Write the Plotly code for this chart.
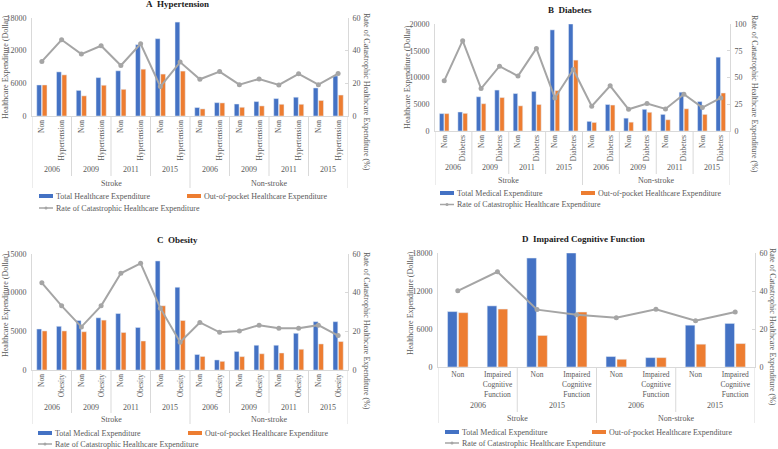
import plotly.graph_objects as go

W, H = 778, 449
FONT = "Liberation Serif"
BLUE, ORANGE, GRAY = "#4472C4", "#ED7D31", "#A5A5A5"
AX = "#D9D9D9"
TXT = "#595959"
FS = 8

groups = ["Stroke", "Non-stroke"]
years_abc = ["2006", "2009", "2011", "2015"]
years_d = ["2006", "2015"]

# ---- A Hypertension ----
a_conds = ["Non", "Hypertension"]
a_total = [5700, 8100, 4700, 7050, 8300, 13100, 14200, 17250,
           1550, 2450, 2200, 2650, 3200, 3450, 5150, 7350]
a_oop = [5700, 7550, 3700, 5650, 4900, 8600, 7700, 8250,
         1300, 2400, 1600, 1850, 2150, 2150, 2850, 3850]
a_rate = [33.4, 46.7, 37.9, 43.0, 30.9, 44.2, 18.0, 33.0,
          22.5, 27.2, 19.2, 22.7, 19.0, 25.8, 19.2, 26.0]

# ---- B Diabetes ----
b_conds = ["Non", "Diabetes"]
b_total = [3250, 3550, 6400, 7650, 7000, 7400, 18900, 20000,
           1800, 4950, 2400, 4050, 3100, 7250, 5500, 13800]
b_oop = [3250, 3300, 5100, 6250, 4700, 4950, 7550, 13250,
         1600, 4850, 1650, 3500, 2100, 4150, 3100, 7100]
b_rate = [46.9, 84.4, 39.7, 60.6, 51.3, 77.2, 30.9, 57.5,
          23.1, 42.2, 20.3, 25.6, 20.6, 34.4, 21.9, 30.9]

# ---- C Obesity ----
c_conds = ["Non", "Obesity"]
c_total = [5300, 5650, 6400, 6750, 7300, 5500, 14100, 10700,
           2000, 1300, 2400, 3200, 3200, 4750, 6250, 6250]
c_oop = [5050, 5050, 4950, 6450, 4850, 3750, 8300, 6400,
         1750, 1120, 1730, 2100, 2200, 2680, 3370, 3680]
c_rate = [45.1, 33.2, 22.3, 33.2, 50.0, 55.2, 32.0, 14.4,
          24.6, 19.5, 20.2, 23.2, 21.6, 21.6, 23.2, 17.8]

# ---- D Impaired Cognitive Function ----
d_conds = ["Non", "Impaired<br>Cognitive<br>Function"]
d_total = [8750, 9650, 17200, 18000, 1650, 1480, 6600, 6880]
d_oop = [8580, 9150, 4980, 8680, 1220, 1480, 3600, 3700]
d_rate = [40.1, 50.1, 30.2, 27.5, 25.9, 30.4, 24.4, 28.9]

panels = [
    dict(title="A\u00a0 Hypertension", conds=a_conds, years=years_abc,
         total=a_total, oop=a_oop, rate=a_rate, total_name="Total Healthcare Expenditure",
         yl=(0, 18000, 6000), yr=(0, 60, 20), angle=-90,
         plot=(32, 18, 348, 116), tpos=(177, 4), lt=(5, 67), rt=(367, 92),
         year_y=169, year_bot=176, group_y=183, frame_bot=188,
         leg_y=(196, 208), leg_x=(39, 187)),
    dict(title="B\u00a0 Diabetes", conds=b_conds, years=years_abc,
         total=b_total, oop=b_oop, rate=b_rate, total_name="Total Medical Expenditure",
         yl=(0, 20000, 5000), yr=(0, 100, 25), angle=-90,
         plot=(435, 24, 730, 131), tpos=(570, 10), lt=(407, 77), rt=(755, 94),
         year_y=167, year_bot=174, group_y=180, frame_bot=185,
         leg_y=(193, 204.5), leg_x=(440, 581)),
    dict(title="C\u00a0 Obesity", conds=c_conds, years=years_abc,
         total=c_total, oop=c_oop, rate=c_rate, total_name="Total Medical Expenditure",
         yl=(0, 15000, 5000), yr=(0, 60, 20), angle=-90,
         plot=(32, 254, 348, 370), tpos=(177, 240), lt=(5, 305), rt=(367, 331),
         year_y=407, year_bot=413, group_y=419, frame_bot=424,
         leg_y=(433, 444), leg_x=(38, 188)),
    dict(title="D\u00a0 Impaired Cognitive Function", conds=d_conds, years=years_d,
         total=d_total, oop=d_oop, rate=d_rate, total_name="Total Medical Expenditure",
         yl=(0, 18000, 6000), yr=(0, 60, 20), angle=0,
         plot=(438, 253, 755, 367), tpos=(583, 239), lt=(410, 303), rt=(773, 327),
         year_y=405, year_bot=412, group_y=418, frame_bot=423,
         leg_y=(432, 443), leg_x=(445, 592)),
]


def px(x):
    return x / W


def py(y):
    return 1 - y / H


def note(text, x, y, xref="paper", xanchor="center", angle=0, size=FS, color=TXT):
    return dict(text=text, x=x, y=y, xref=xref, yref="paper", showarrow=False,
                xanchor=xanchor, yanchor="middle", textangle=angle,
                font=dict(family=FONT, size=size, color=color))


fig = go.Figure()
layout = {}
shapes = []
annotations = []

for i, p in enumerate(panels):
    xid = "x" if i == 0 else f"x{i + 1}"
    ylid = "y" if i == 0 else f"y{2 * i + 1}"
    yrid = f"y{2 * i + 2}"
    xkey = "xaxis" if i == 0 else f"xaxis{i + 1}"
    ylkey = "yaxis" if i == 0 else f"yaxis{2 * i + 1}"
    yrkey = f"yaxis{2 * i + 2}"

    keys, labels, meta = [], [], []
    for g in groups:
        for yr in p["years"]:
            for c in p["conds"]:
                keys.append(f"{g} {yr} {c}")
                labels.append(c)
                meta.append((g, yr))
    n = len(keys)
    nc = len(p["conds"])

    fig.add_trace(go.Bar(x=keys, y=p["total"], name=p["total_name"], marker_color=BLUE,
                         xaxis=xid, yaxis=ylid, showlegend=False))
    fig.add_trace(go.Bar(x=keys, y=p["oop"], name="Out-of-pocket Healthcare Expenditure",
                         marker_color=ORANGE, xaxis=xid, yaxis=ylid, showlegend=False))
    fig.add_trace(go.Scatter(x=keys, y=p["rate"], name="Rate of Catastrophic Healthcare Expenditure",
                             mode="lines+markers", line=dict(color=GRAY, width=2),
                             marker=dict(color=GRAY, size=5), xaxis=xid, yaxis=yrid,
                             showlegend=False))

    x0, y0, x1, y1 = p["plot"]
    xd = [px(x0), px(x1)]
    yd = [py(y1), py(y0)]
    layout[xkey] = dict(domain=xd, anchor=ylid, type="category", range=[-0.5, n - 0.5],
                        automargin=False,
                        tickmode="array", tickvals=keys, ticktext=labels, tickangle=p["angle"],
                        showline=True, linecolor=AX, linewidth=1, ticks="", showgrid=False,
                        tickfont=dict(family=FONT, size=7.5, color=TXT), fixedrange=True)
    lo, hi, dt = p["yl"]
    layout[ylkey] = dict(domain=yd, anchor=xid, range=[lo, hi], dtick=dt, tickformat="d",
                         automargin=False,
                         showgrid=False, showline=True, linecolor=AX, zeroline=False, ticks="",
                         ticklabelstandoff=3,
                         tickfont=dict(family=FONT, size=FS, color=TXT))
    lo, hi, dt = p["yr"]
    layout[yrkey] = dict(overlaying=ylid, anchor=xid, side="right", range=[lo, hi], dtick=dt,
                         automargin=False,
                         tickformat="d", showgrid=False, showline=True, linecolor=AX,
                         zeroline=False, ticks="inside", ticklen=3, tickcolor=AX,
                         ticklabelstandoff=2,
                         tickfont=dict(family=FONT, size=FS, color=TXT))

    # Title and axis titles
    annotations.append(note(f"<b>{p['title']}</b>", px(p["tpos"][0]), py(p["tpos"][1]),
                            size=9, color="#1a1a1a"))
    annotations.append(note("Healthcare Expenditure (Dollar)", px(p["lt"][0]), py(p["lt"][1]),
                            angle=-90))
    annotations.append(note("Rate of Catastrophic Healthcare Expenditure (%)",
                            px(p["rt"][0]), py(p["rt"][1]), angle=90))

    # Year and group labels (multi-level category axis)
    ny = len(p["years"])
    for g in groups:
        for yr in p["years"]:
            idx = [k for k, m in enumerate(meta) if m == (g, yr)]
            annotations.append(note(yr, sum(idx) / len(idx), py(p["year_y"]), xref=xid))
        gidx = [k for k, m in enumerate(meta) if m[0] == g]
        annotations.append(note(g, sum(gidx) / len(gidx), py(p["group_y"]), xref=xid))
    # separators
    for k in range(1, 2 * ny):
        bx = k * nc - 0.5
        bot = p["frame_bot"] if k == ny else p["year_bot"]
        shapes.append(dict(type="line", xref=xid, yref="paper", x0=bx, x1=bx,
                           y0=py(y1), y1=py(bot), line=dict(color=AX, width=1)))
    for bx in (-0.5, n - 0.5):
        shapes.append(dict(type="line", xref=xid, yref="paper", x0=bx, x1=bx,
                           y0=py(y1), y1=py(p["frame_bot"]), line=dict(color=AX, width=1)))

    # Legend
    ly1, ly2 = p["leg_y"]
    lx1, lx2 = p["leg_x"]
    for lx, col, name in ((lx1, BLUE, p["total_name"]),
                          (lx2, ORANGE, "Out-of-pocket Healthcare Expenditure")):
        shapes.append(dict(type="rect", xref="paper", yref="paper", x0=px(lx), x1=px(lx + 14),
                           y0=py(ly1 + 2), y1=py(ly1 - 2), fillcolor=col, line=dict(width=0)))
        annotations.append(note(name, px(lx + 15), py(ly1), xanchor="left"))
    shapes.append(dict(type="line", xref="paper", yref="paper", x0=px(lx1), x1=px(lx1 + 14),
                       y0=py(ly2), y1=py(ly2), line=dict(color=GRAY, width=1.5)))
    shapes.append(dict(type="circle", xref="paper", yref="paper", x0=px(lx1 + 5.5),
                       x1=px(lx1 + 8.5), y0=py(ly2 + 1.5), y1=py(ly2 - 1.5),
                       fillcolor=GRAY, line=dict(width=0)))
    annotations.append(note("Rate of Catastrophic Healthcare Expenditure", px(lx1 + 15),
                            py(ly2), xanchor="left"))

fig.update_layout(
    width=W, height=H, margin=dict(l=0, r=0, t=0, b=0, autoexpand=False),
    paper_bgcolor="white", plot_bgcolor="white",
    barmode="group", bargap=0.45, bargroupgap=0.12,
    showlegend=False, shapes=shapes, annotations=annotations,
    font=dict(family=FONT, size=FS, color=TXT),
    **layout,
)

fig.write_html("out.html", config={"displayModeBar": False},
               post_script="document.body.style.margin='0';"
                           "document.body.style.overflow='hidden';")
